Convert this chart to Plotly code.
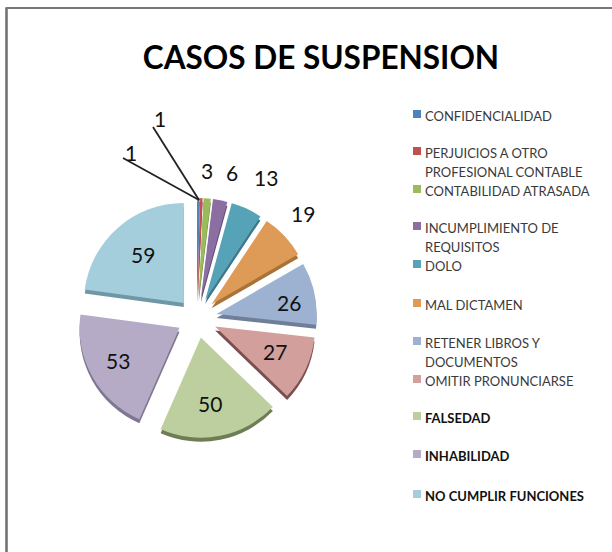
import plotly.graph_objects as go

labels = ["CONFIDENCIALIDAD", "PERJUICIOS A OTRO PROFESIONAL CONTABLE", "CONTABILIDAD ATRASADA",
          "INCUMPLIMIENTO DE REQUISITOS", "DOLO", "MAL DICTAMEN", "RETENER LIBROS Y DOCUMENTOS",
          "OMITIR PRONUNCIARSE", "FALSEDAD", "INHABILIDAD", "NO CUMPLIR FUNCIONES"]
legend_lines = [["CONFIDENCIALIDAD"], ["PERJUICIOS A OTRO", "PROFESIONAL CONTABLE"], ["CONTABILIDAD ATRASADA"],
                ["INCUMPLIMIENTO DE", "REQUISITOS"], ["DOLO"], ["MAL DICTAMEN"], ["RETENER LIBROS Y", "DOCUMENTOS"],
                ["OMITIR PRONUNCIARSE"], ["FALSEDAD"], ["INHABILIDAD"], ["NO CUMPLIR FUNCIONES"]]
bold_from = 8
values = [1, 1, 3, 6, 13, 19, 26, 27, 50, 53, 59]
colors = ["#4F81BD", "#C0504D", "#9ABB59", "#8B6FA3", "#56A3B8", "#DE9A57", "#9DB2D1", "#D29F9C", "#BECF9F", "#B6ABC7", "#A5CEDC"]
edge_colors = ["#3A6090", "#8C3A38", "#70883F", "#654F78", "#3E7888", "#A87238", "#6F7F98", "#7A4F4D", "#6F7D55", "#7F7790", "#6F97A5"]
pull = [0.2] * 11

W, H = 612, 552
cx, cy, half = 197, 318, 120
dom_x = [(cx - half) / W, (cx + half) / W]
dom_y = [1 - (cy + half) / H, 1 - (cy - half) / H]
depth = 4

def px(x): return x / W
def py(y): return 1 - y / H

fig = go.Figure()
fig.add_trace(go.Pie(labels=labels, values=values, sort=False, direction="clockwise", rotation=0, pull=pull,
                     marker=dict(colors=edge_colors, line=dict(width=0)), textinfo="none", showlegend=False, hoverinfo="skip",
                     domain=dict(x=dom_x, y=[dom_y[0] - depth / H, dom_y[1] - depth / H])))
fig.add_trace(go.Pie(labels=labels, values=values, sort=False, direction="clockwise", rotation=0, pull=pull,
                     marker=dict(colors=colors, line=dict(width=0)), textinfo="none", showlegend=False,
                     domain=dict(x=dom_x, y=dom_y)))

label_xy = [(160, 119), (131, 152), (207, 171), (232, 172), (266, 177), (303, 214),
            (289, 302), (275, 352), (210, 403), (118, 360), (143, 255)]
annotations = [dict(text=str(v), x=px(x), y=py(y), xref="paper", yref="paper", showarrow=False,
                    xanchor="center", yanchor="middle",
                    font=dict(family="Lato", size=21, color="#111111")) for v, (x, y) in zip(values, label_xy)]

leaders = [(199, 200, 153, 127), (199, 200, 123, 158)]
shapes = [dict(type="line", xref="paper", yref="paper", x0=px(a), y0=py(b), x1=px(c), y1=py(d),
               line=dict(color="#222222", width=1.8)) for a, b, c, d in leaders]
shapes += [dict(type="line", xref="paper", yref="paper", x0=px(6.5), y0=0, x1=px(6.5), y1=py(8), line=dict(color="#6E6E6E", width=2.5)),
           dict(type="line", xref="paper", yref="paper", x0=px(5.5), y0=py(8), x1=1, y1=py(8), line=dict(color="#777777", width=2))]

# Legend rows: first-line text centre per entry
entry_y = [116, 153, 191, 228, 266, 305, 343, 381, 418, 456, 496]
line_gap = 19
for i, (lines, col, y0) in enumerate(zip(legend_lines, colors, entry_y)):
    shapes.append(dict(type="rect", xref="paper", yref="paper", x0=px(413), x1=px(421), y0=py(y0 + 2), y1=py(y0 - 6),
                       fillcolor=col, line=dict(width=0)))
    for j, line in enumerate(lines):
        bold = i >= bold_from
        annotations.append(dict(text=f"<b>{line}</b>" if bold else line, x=px(425), y=py(y0 + j * line_gap), xref="paper", yref="paper",
                                xanchor="left", yanchor="middle", showarrow=False, xshift=-2,
                                font=dict(family="Lato", size=13, color="#111111" if bold else "#3A3A3A")))

fig.update_layout(width=W, height=H, margin=dict(l=0, r=0, t=0, b=0), paper_bgcolor="white", plot_bgcolor="white",
                  title=dict(text="<b>CASOS DE SUSPENSION</b>", x=px(321), xanchor="center", y=py(58), yanchor="middle",
                             font=dict(family="Lato", size=31.5, color="black")),
                  showlegend=False, annotations=annotations, shapes=shapes)
fig.write_html("out.html", config={"displayModeBar": False},
               post_script="document.body.style.margin='0';document.body.style.overflow='hidden';")
